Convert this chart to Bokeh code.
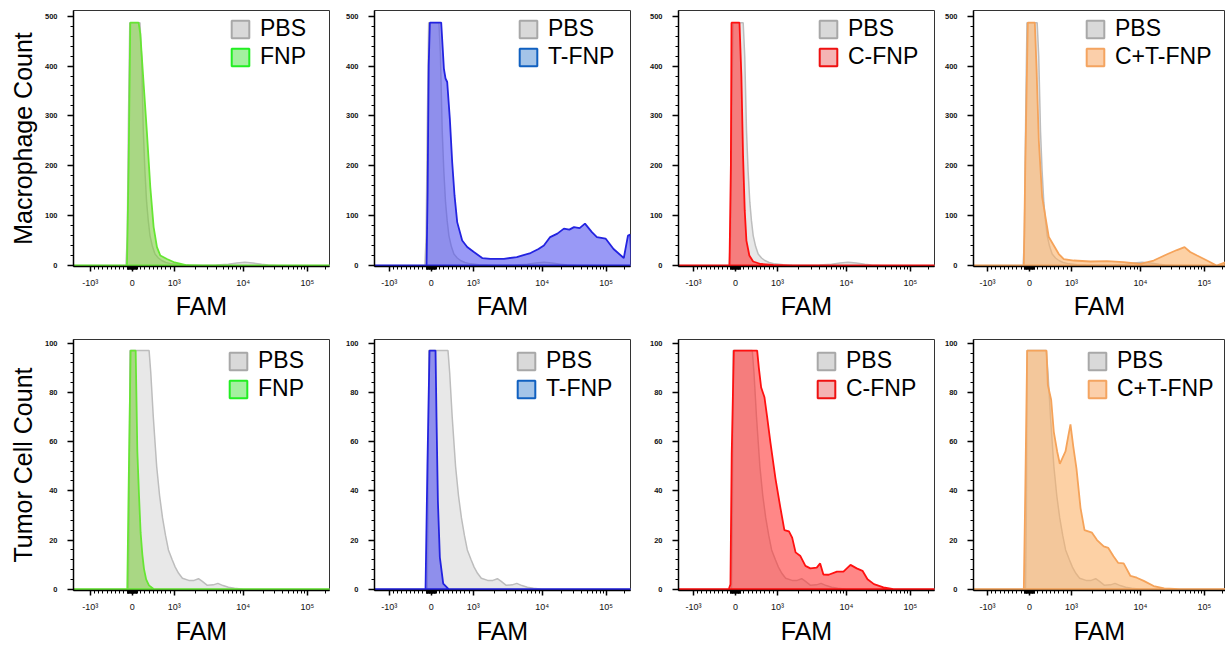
import numpy as np
from bokeh.plotting import figure
from bokeh.layouts import row, column
from bokeh.models import Range1d, FixedTicker, CustomJSTickFormatter, Legend, LegendItem
from bokeh.embed import file_html
from bokeh.resources import INLINE

# ---------------- data (FAM intensity, event count) ----------------
row_titles = ["Macrophage Count", "Tumor Cell Count"]
x_title = "FAM"
sample_names = ["FNP", "T-FNP", "C-FNP", "C+T-FNP"]

pbs_mac_fam = [-2500, -150, -120, -90, -60, 0, 100, 183, 220, 262, 300, 341, 380, 421, 480, 540, 620, 698,
               800, 936, 1200, 1600, 2500, 4000, 6000, 8000, 10600, 14000, 19000, 24000, 35000, 262144]
pbs_mac_count = [0, 0, 60, 300, 487, 487, 487, 487, 420, 270, 190, 127, 90, 60, 38, 23, 15, 10,
                 6, 3.3, 1.5, 0.8, 0.5, 0.8, 2.5, 5, 6.5, 5, 2.5, 0.8, 0, 0]

fnp_mac_fam = [-2500, -127, -88, -48, 150, 190, 270, 350, 429, 508, 587, 667, 825, 984, 1510, 2500, 262144]
fnp_mac_count = [0, 0, 197, 487, 487, 465, 364, 264, 157, 77, 37, 20, 13, 7, 0.5, 0, 0]

tfnp_mac_fam = [-2500, -111, -85, -60, -32, 238, 302, 341, 381, 444, 500, 556, 619, 738, 857, 1022, 1340,
                1750, 2730, 4200, 6700, 8800, 10600, 13200, 17000, 21400, 26000, 30700, 37600, 45700,
                58900, 70800, 97700, 132000, 195000, 229000, 250000, 262144]
tfnp_mac_count = [0, 0, 150, 400, 487, 487, 395, 375, 368, 294, 207, 140, 87, 50, 37, 27, 15,
                  13.4, 13.4, 17, 25, 33, 40, 57, 64, 74, 72, 77, 75, 84,
                  67, 57, 54, 33, 15, 60, 62, 0]

cfnp_mac_fam = [-2500, -143, -110, -95, 95, 140, 180, 220, 260, 330, 420, 600, 900, 1500, 262144]
cfnp_mac_count = [0, 0, 200, 487, 487, 380, 220, 110, 50, 20, 8, 3, 1, 0, 0]

ctfnp_mac_fam = [-2500, -135, -100, -40, 127, 167, 222, 302, 381, 460, 579, 698, 817, 1075, 1850, 3200,
                 5620, 10000, 15850, 26000, 36300, 47900, 58900, 75900, 110000, 158000, 225000, 262144]
ctfnp_mac_count = [0, 0, 200, 487, 487, 397, 250, 137, 97, 57, 40, 23, 13, 10, 8, 8.7,
                   6.7, 3.3, 10, 23, 31, 37, 27, 20, 10, 0, 6.7, 0]

pbs_tum_fam = [-2500, -95, -75, -55, 400, 440, 500, 580, 650, 720, 790, 860, 950, 1030, 1150, 1300, 1600,
               1900, 2200, 2500, 2950, 3600, 4200, 5000, 6000, 7400, 10000, 262144]
pbs_tum_count = [0, 0, 30, 97, 97, 88, 70, 50, 38, 29, 22, 16, 12, 9, 6.5, 4.5, 3.6,
                 3.6, 4.3, 3.2, 1.6, 1.8, 2.4, 1.5, 0.8, 0.4, 0, 0]

fnp_tum_fam = [-2500, -120, -80, -40, 80, 120, 160, 198, 240, 278, 330, 397, 516, 262144]
fnp_tum_count = [0, 0, 50, 97, 97, 56, 38, 23, 14, 8.3, 4, 1.6, 0, 0]

tfnp_tum_fam = [-2500, -135, -90, -40, 103, 127, 159, 206, 286, 421, 262144]
tfnp_tum_count = [0, 0, 50, 97, 97, 69, 36, 13, 2.3, 0, 0]

cfnp_tum_fam = [-2500, -160, -120, -90, -40, 516, 556, 611, 690, 754, 833, 952, 1100, 1250, 1450, 1610,
                1800, 2110, 2490, 2930, 3630, 4070, 4540, 5430, 7200, 9000, 11500, 14300, 17500,
                20900, 26300, 37000, 56000, 262144]
cfnp_tum_count = [0, 0, 2, 55, 97, 97, 90, 82, 78, 70, 59.5, 45, 33, 24, 23.5, 21,
                  15, 13.5, 9.5, 8.5, 8.8, 10.5, 6, 5.9, 7.2, 7.2, 9.9, 8.5, 7.5,
                  4.1, 2.1, 0.8, 0, 0]

ctfnp_tum_fam = [-2500, -135, -100, -55, 405, 437, 516, 579, 659, 722, 857, 921, 976, 1060, 1175, 1340,
                 1525, 1950, 2300, 2870, 3350, 3980, 4680, 5620, 7080, 8800, 11200, 15850, 23000,
                 40000, 262144]
ctfnp_tum_count = [0, 0, 40, 97, 97, 83, 77, 64, 56, 51, 56, 62, 67, 58, 49, 33,
                   24, 23, 20, 17.4, 16.8, 13.4, 10.7, 10.5, 5.4, 4.7, 3.4, 1.3, 0.4,
                   0, 0]

x_major_vals = [-1000, 0, 1000, 10000, 100000]
x_major_labels = ["-10³", "0", "10³", "10⁴", "10⁵"]
y_major_top = [0, 100, 200, 300, 400, 500]
y_major_bottom = [0, 20, 40, 60, 80, 100]

# ---------------- styles ----------------
FONT = "Liberation Sans"
sample_fill = ["#7ccc3c", "#5050f0", "#ff3030", "#fcb064"]
sample_line = ["#66e633", "#2323e0", "#ff1010", "#f5a35a"]
legend_fill = ["#a4f0a0", "#a4c4e8", "#f4b4b4", "#fbcfaa"]
legend_line = ["#22ee22", "#1060c0", "#ee1111", "#f4a460"]

PX_PER_U = 42.0
X0 = [-1.40, -1.35, -1.357, -1.333]


def biex(v):
    v = np.asarray(v, dtype=float)
    a = np.abs(v)
    d = np.log10(np.maximum(a, 1000.0)) - 3.0
    u = np.where(a <= 1000.0, a / 1000.0, 1.0 + 1.702 * d - 0.0595 * d ** 2)
    return np.sign(v) * u


x_minor_vals = ([s * m for s in (-1, 1) for m in (10, 20, 30, 40, 50, 60, 70, 80, 90, 110, 120)] +
                [s * m * 100 for s in (-1, 1) for m in range(1, 10)] +
                [m * 1000 for m in range(2, 10)] + [m * 10000 for m in range(2, 10)] + [200000])
x_major_pos = [float(t) for t in biex(x_major_vals)]
x_minor_pos = [float(t) for t in biex(x_minor_vals)]

data_rows = [
    [(pbs_mac_fam, pbs_mac_count, fnp_mac_fam, fnp_mac_count),
     (pbs_mac_fam, pbs_mac_count, tfnp_mac_fam, tfnp_mac_count),
     (pbs_mac_fam, pbs_mac_count, cfnp_mac_fam, cfnp_mac_count),
     (pbs_mac_fam, pbs_mac_count, ctfnp_mac_fam, ctfnp_mac_count)],
    [(pbs_tum_fam, pbs_tum_count, fnp_tum_fam, fnp_tum_count),
     (pbs_tum_fam, pbs_tum_count, tfnp_tum_fam, tfnp_tum_count),
     (pbs_tum_fam, pbs_tum_count, cfnp_tum_fam, cfnp_tum_count),
     (pbs_tum_fam, pbs_tum_count, ctfnp_tum_fam, ctfnp_tum_count)],
]

fig_w = [331, 301, 304, 289]
b_left = [73, 43, 46, 37]
b_right = [2, 2, 2, 0]
fig_h = [328, 320]
b_top = [10, 11]
b_bot = [62, 58]
y_rng = [(-2.0, 511.4), (-0.5, 101.5)]
leg_x = [[156, 143, 139, 111], [154, 141, 137, 113]]
leg_y_from_top = [60, 63]
x_title_standoff = [1, 2]

rows_out = []
for ri in range(2):
    figs = []
    for ci in range(4):
        fw = fig_w[ci] - b_left[ci] - b_right[ci]
        fh = fig_h[ri] - b_top[ri] - b_bot[ri]
        p = figure(width=fig_w[ci], height=fig_h[ri],
                   x_range=Range1d(X0[ci], X0[ci] + fw / PX_PER_U),
                   y_range=Range1d(*y_rng[ri]),
                   output_backend="svg", toolbar_location=None,
                   min_border_left=b_left[ci], min_border_right=b_right[ci],
                   min_border_top=b_top[ri], min_border_bottom=b_bot[ri])
        p.background_fill_color = "white"
        p.border_fill_color = "white"
        p.outline_line_color = "#333333"
        p.outline_line_width = 1
        p.xgrid.visible = False
        p.ygrid.visible = False

        pf, pc, sf, sc = data_rows[ri][ci]
        p.patch(biex(pf), pc, fill_color="#cccccc", fill_alpha=0.45,
                line_color="#bdbdbd", line_width=1.5)
        p.patch(biex(sf), sc, fill_color=sample_fill[ci], fill_alpha=0.58,
                line_color=sample_line[ci], line_width=1.8)

        # legend swatches (hidden renderers carrying legend colours)
        lp = p.patch(biex(pf), pc, fill_color="#d9d9d9", line_color="#a8a8a8",
                     line_width=2, visible=False)
        ls = p.patch(biex(sf), sc, fill_color=legend_fill[ci], line_color=legend_line[ci],
                     line_width=2, visible=False)
        leg = Legend(items=[LegendItem(label="PBS", renderers=[lp]),
                            LegendItem(label=sample_names[ci], renderers=[ls])],
                     location=(leg_x[ri][ci], fh - leg_y_from_top[ri]),
                     glyph_width=22, glyph_height=22, label_height=22, label_standoff=9,
                     spacing=1, padding=0, margin=0,
                     label_text_font=FONT, label_text_font_size="23px", label_text_color="black",
                     background_fill_alpha=0, border_line_color=None)
        p.add_layout(leg)

        # x axis
        xa = p.xaxis[0]
        xa.ticker = FixedTicker(ticks=x_major_pos, minor_ticks=x_minor_pos)
        xa.formatter = CustomJSTickFormatter(
            args=dict(vals=x_major_pos, labs=x_major_labels),
            code="for (let i = 0; i < vals.length; i++) { if (Math.abs(tick - vals[i]) < 1e-6) return labs[i]; } return '';")
        xa.major_label_standoff = 6
        xa.axis_label = x_title
        xa.axis_label_standoff = x_title_standoff[ri]

        # y axis
        ya = p.yaxis[0]
        if ri == 0:
            ya.ticker = FixedTicker(ticks=y_major_top,
                                    minor_ticks=[v for v in range(0, 501, 20) if v % 100])
        else:
            ya.ticker = FixedTicker(ticks=y_major_bottom,
                                    minor_ticks=[v for v in range(0, 101, 4) if v % 20])
        ya.major_label_standoff = 10
        if ci == 0:
            ya.axis_label = row_titles[ri]
            ya.axis_label_standoff = 5

        for ax in (xa, ya):
            ax.axis_line_color = "black"
            ax.axis_line_width = 1.5
            ax.major_tick_line_color = "black"
            ax.major_tick_line_width = 1.5
            ax.minor_tick_line_color = "black"
            ax.minor_tick_line_width = 1
            ax.major_tick_in = 0
            ax.minor_tick_in = 0
            ax.major_tick_out = 6 if ax is ya else 5
            ax.minor_tick_out = 3
            ax.major_label_text_font = FONT
            ax.axis_label_text_font = FONT
            ax.axis_label_text_font_size = "25px"
            ax.axis_label_text_font_style = "normal"
            ax.axis_label_text_color = "black"
        xa.major_label_text_font_size = "9px"
        xa.major_label_text_color = "#111111"
        ya.major_label_text_font_size = "7.5px"
        ya.major_label_text_color = "#111111"
        ya.major_label_text_font_style = "bold"
        figs.append(p)
    rows_out.append(row(*figs))

layout = column(*rows_out)
open("out.html", "w").write(file_html(layout, INLINE))
